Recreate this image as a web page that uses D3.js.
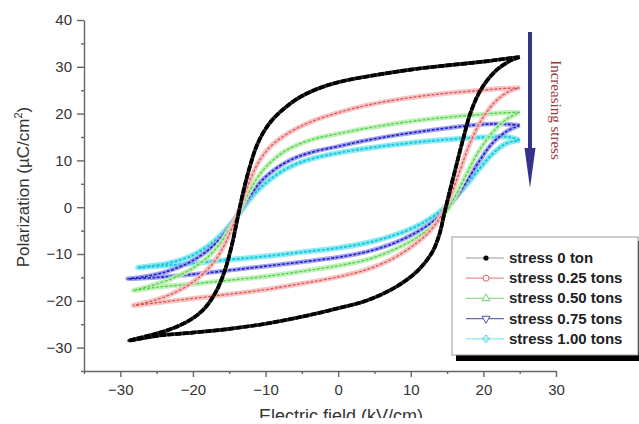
<!DOCTYPE html>
<html>
<head>
<meta charset="utf-8">
<script src="https://d3js.org/d3.v7.min.js"></script>
<style>
  body { margin: 0; background: #fff; }
  svg { display: block; font-family: "Liberation Sans", Arial, sans-serif; }
  .axis path, .axis line { stroke: #666; stroke-width: 1.4px; }
  .axis text { font-size: 15px; fill: #333; }
  .legend text { font-size: 15px; font-weight: bold; fill: #222; }
</style>
</head>
<body>
<svg width="639" height="424"></svg>
<script>
// series names
var seriesNames = ["stress 0 ton", "stress 0.25 tons", "stress 0.50 tons", "stress 0.75 tons", "stress 1.00 tons"];

// loops: E (kV/cm) and P (uC/cm2), right tip -> upper branch -> left tip -> lower branch -> right tip
var field0 = [25, 22.5, 20, 15, 10, 5, 0, -3, -5.5, -7.5, -9, -10.3, -11.3, -12.1, -12.8, -13.4, -14, -14.7, -15.6, -16.8, -18.5, -20.5, -23.5, -26.5, -28.8,
              -25, -20, -15, -10, -5, 0, 4, 8, 11, 13, 14, 14.6, 15.3, 16.2, 17.2, 18.3, 19.8, 21.8, 23.7, 25];
var pol0   = [32.1, 31.6, 31.1, 30.3, 29.4, 28.2, 26.7, 25.2, 23.3, 21, 18.8, 16, 12.8, 9, 5, 1, -3.5, -8.5, -13.5, -18, -21.8, -24.2, -26.3, -27.6, -28.5,
              -27.5, -26.8, -26, -24.9, -23.4, -21.6, -19.9, -17, -13.5, -9.5, -5.5, -1.5, 3, 8.5, 14.5, 20.5, 25.5, 29.3, 31.3, 32.1];

var field1 = [25, 22, 19, 14, 9, 4, 0, -3, -5.5, -7.5, -9.3, -10.7, -11.8, -12.7, -13.5, -14.5, -15.8, -17.5, -20, -23, -26, -28.2,
              -25, -20, -15, -10, -5, 0, 4, 7.5, 10.5, 12.7, 14.3, 15.5, 16.8, 18.2, 19.8, 21.8, 23.7, 25];
var pol1   = [25.5, 25.3, 24.9, 24.2, 23.2, 21.8, 20.2, 18.7, 17, 15.2, 13, 10.3, 7, 3.5, 0, -4, -8.5, -12.5, -16, -18.6, -20.2, -21,
              -20.4, -19.5, -18.6, -17.6, -16.3, -14.9, -13.3, -11, -8, -5, -1.5, 2.5, 8, 13.8, 18.8, 22.8, 24.9, 25.5];

var field2 = [25, 22, 18, 13, 8, 4, 0, -3, -5.5, -7.5, -9.3, -10.8, -12, -13, -14.2, -15.7, -17.5, -20, -23, -26, -28.2,
              -25, -20, -15, -10, -5, 0, 4, 7.5, 10.5, 12.8, 14.6, 16, 17.5, 19.2, 21, 23, 25];
var pol2   = [20.3, 20.1, 19.6, 18.9, 17.9, 16.9, 15.7, 14.7, 13.4, 11.8, 9.6, 7, 4, 1, -2.5, -6.5, -10, -13, -15.3, -16.9, -17.8,
              -17.1, -16.4, -15.6, -14.8, -13.7, -12.5, -11.2, -9.2, -6.8, -4.3, -1.5, 2, 6.5, 11.5, 15.5, 18.6, 20.3];

var field3 = [25, 22.5, 20, 16, 12, 8, 4, 0, -3, -5.5, -7.5, -9.3, -10.8, -12, -13.2, -14.5, -16, -18, -20.5, -23.5, -26.5, -29,
              -25, -21, -15, -10, -5, 0, 4, 7.5, 10.5, 12.8, 14.7, 16.3, 17.8, 19.5, 21.2, 23.2, 25];
var pol3   = [17.5, 17.8, 17.7, 17.1, 16.3, 15.4, 14.3, 13, 12, 10.8, 9.3, 7.4, 5.2, 2.7, 0, -3, -6.3, -9.3, -11.8, -13.7, -14.8, -15.3,
              -15, -14.5, -13.5, -12.6, -11.7, -10.7, -9.5, -7.8, -5.6, -3.4, -0.8, 2.2, 5.8, 10, 13.6, 16.2, 17.5];

var field4 = [25, 23.5, 21, 17, 13, 8, 4, 0, -3, -5.5, -7.5, -9.3, -10.8, -12, -13.2, -14.6, -16.2, -18.2, -20.5, -23.5, -27.6,
              -24, -20, -15, -10, -5, 0, 4, 7.5, 10.5, 12.8, 14.6, 16.2, 17.8, 19.5, 21.2, 23, 25];
var pol4   = [14.3, 15, 15, 14.7, 14.2, 13.4, 12.6, 11.6, 10.6, 9.4, 7.9, 6, 4, 2, -0.5, -3.3, -6, -8.6, -10.6, -12, -12.9,
              -12.5, -12, -11.2, -10.5, -9.6, -8.7, -7.6, -6.1, -4.3, -2.3, -0.2, 2.2, 5, 8.3, 11.3, 13.5, 14.3];

var xTicks = [-30, -20, -10, 0, 10, 20, 30];
var yTicks = [-30, -20, -10, 0, 10, 20, 30, 40];

var svg = d3.select("svg");

var x = d3.scaleLinear().domain([-35, 30]).range([84, 556]);
var y = d3.scaleLinear().domain([-35, 40]).range([371, 20]);

// axes
svg.append("g").attr("class", "axis")
    .attr("transform", "translate(0," + y(-35) + ")")
    .call(d3.axisBottom(x).tickValues(xTicks).tickSize(6).tickPadding(7).tickSizeOuter(0));
svg.append("g").attr("class", "axis")
    .attr("transform", "translate(0," + y(-35) + ")")
    .call(d3.axisBottom(x).tickValues(d3.range(-35, 31, 5).filter(function(d) { return d % 10 !== 0; }))
      .tickSize(3).tickFormat("").tickSizeOuter(0))
    .select(".domain").remove();

svg.append("g").attr("class", "axis")
    .attr("transform", "translate(" + x(-35) + ",0)")
    .call(d3.axisLeft(y).tickValues(yTicks).tickSize(7).tickPadding(5).tickSizeOuter(0));
svg.append("g").attr("class", "axis")
    .attr("transform", "translate(" + x(-35) + ",0)")
    .call(d3.axisLeft(y).tickValues(d3.range(-35, 41, 5).filter(function(d) { return d % 10 !== 0; }))
      .tickSize(3).tickFormat("").tickSizeOuter(0))
    .select(".domain").remove();

// axis titles
svg.append("text")
    .attr("transform", "translate(29,187) rotate(-90)")
    .attr("text-anchor", "middle")
    .style("font-size", "17px").style("fill", "#333")
    .html("Polarization (\u00B5C/cm<tspan dy='-7' style='font-size:11px'>2</tspan><tspan dy='7'>)</tspan>");

// the x title is cropped at the bottom in the original figure
svg.append("clipPath").attr("id", "cut")
  .append("rect").attr("x", 0).attr("y", 0).attr("width", 639).attr("height", 418);
svg.append("text")
    .attr("clip-path", "url(#cut)")
    .attr("x", 341).attr("y", 422)
    .attr("text-anchor", "middle")
    .style("font-size", "18px").style("fill", "#333")
    .text("Electric field (kV/cm)");

// loops
var loops = [
  { E: field0, P: pol0, band: "#111", bandW: 3.6, dash: "6,1.6", dot: "#000", dotW: 3.6 },
  { E: field1, P: pol1, band: "#f6bcbc", bandW: 5, dash: "3,1.5", dot: "#d85050", dotW: 1.2 },
  { E: field2, P: pol2, band: "#b8f0b0", bandW: 5, dash: "3,1.5", dot: "#4ccc44", dotW: 1.2 },
  { E: field3, P: pol3, band: "#9898ee", bandW: 4.5, dash: "3,1.5", dot: "#2020c0", dotW: 1.6 },
  { E: field4, P: pol4, band: "#7fe8f2", bandW: 5.5, dash: "3,1.5", dot: "#18c8dc", dotW: 2 }
];

var line = d3.line()
    .x(function(d) { return x(d[0]); })
    .y(function(d) { return y(d[1]); })
    .curve(d3.curveCatmullRom.alpha(0.5));

// draw from last to first so black is on top
loops.slice().reverse().forEach(function(s) {
  var pts = d3.zip(s.E, s.P);
  svg.append("path").datum(pts).attr("d", line)
      .attr("fill", "none").attr("stroke", s.band).attr("stroke-width", s.bandW)
      .attr("stroke-linejoin", "round").attr("opacity", 0.9);
  svg.append("path").datum(pts).attr("d", line)
      .attr("fill", "none").attr("stroke", s.dot).attr("stroke-width", s.dotW)
      .attr("stroke-dasharray", s.dash);
});

// arrow & note
svg.append("line")
    .attr("x1", 530).attr("x2", 530).attr("y1", 32).attr("y2", 152)
    .attr("stroke", "#33338a").attr("stroke-width", 4);
svg.append("path")
    .attr("d", "M524.5,148 L535.5,148 L530,188 Z")
    .attr("fill", "#33338a");
svg.append("text")
    .attr("transform", "translate(551,110) rotate(90)")
    .attr("text-anchor", "middle")
    .style("font-family", "'Liberation Serif', 'Times New Roman', serif")
    .style("font-size", "15px").style("fill", "#9a3a3a")
    .text("Increasing stress");

// legend
var legend = svg.append("g").attr("class", "legend");
legend.append("rect").attr("x", 456).attr("y", 241).attr("width", 190).attr("height", 120).attr("fill", "#000");
legend.append("rect").attr("x", 452).attr("y", 237).attr("width", 186).attr("height", 118)
    .attr("fill", "#fff").attr("stroke", "#999").attr("stroke-width", 1);

var legLine = ["#999", "#e89090", "#90dd90", "#6a6ab0", "#90e4ec"];
var legMark = ["#000", "#e06060", "#70d070", "#5050b0", "#60d8e8"];

seriesNames.forEach(function(name, i) {
  var cy = 258 + i * 20.2;
  legend.append("line").attr("x1", 466).attr("x2", 504).attr("y1", cy).attr("y2", cy)
      .attr("stroke", legLine[i]).attr("stroke-width", 1.2);
  var m = legend.append("g").attr("transform", "translate(486," + cy + ")");
  if (i === 0) {
    m.append("circle").attr("r", 2.6).attr("fill", "#000");
  } else if (i === 1) {
    m.append("circle").attr("r", 3).attr("fill", "#fff").attr("stroke", legMark[i]).attr("stroke-width", 1);
  } else if (i === 2) {
    m.append("path").attr("d", d3.symbol(d3.symbolTriangle, 28)).attr("fill", "#fff").attr("stroke", legMark[i]).attr("stroke-width", 1);
  } else if (i === 3) {
    m.append("path").attr("d", d3.symbol(d3.symbolTriangle, 28)).attr("transform", "rotate(180)")
        .attr("fill", "#fff").attr("stroke", legMark[i]).attr("stroke-width", 1);
  } else {
    m.append("path").attr("d", d3.symbol(d3.symbolCross, 24)).attr("fill", "none").attr("stroke", legMark[i]).attr("stroke-width", 1);
  }
  legend.append("text").attr("x", 509).attr("y", cy + 5).text(name);
});
</script>
</body>
</html>
